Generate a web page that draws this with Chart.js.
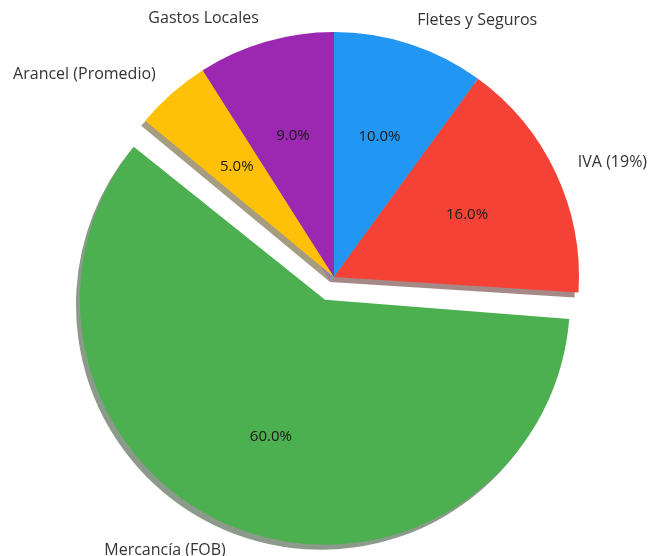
<!DOCTYPE html>
<html>
<head>
<meta charset="utf-8">
<script src="https://cdn.jsdelivr.net/npm/chart.js@4.4.1/dist/chart.umd.min.js"></script>
<style>
  html, body { margin: 0; padding: 0; background: #fff; }
  #wrap { width: 648px; height: 556px; }
</style>
</head>
<body>
<div id="wrap"><canvas id="pie" width="648" height="556"></canvas></div>
<script>
// slices in clockwise order starting at 12 o'clock
var labels = ["Fletes y Seguros", "IVA (19%)", "Mercancía (FOB)", "Arancel (Promedio)", "Gastos Locales"];
var values = [10, 16, 60, 5, 9];
var colors = ["#2196F3", "#F44336", "#4CAF50", "#FFC107", "#9C27B0"];
var explode = [0, 0, 98, 0, 0]; // arc offset, the slice moves out by offset/4

var LABEL_FONT = "16px 'Open Sans', sans-serif";
var PCT_FONT = "15px 'Open Sans', sans-serif";

function shadeOf(hex){
    var r = parseInt(hex.substr(1, 2), 16), g = parseInt(hex.substr(3, 2), 16), b = parseInt(hex.substr(5, 2), 16);
    return "rgba(" + Math.round(r * 0.3) + "," + Math.round(g * 0.3) + "," + Math.round(b * 0.3) + ",0.5)";
}

// Chart.js pushes an offset arc out and also grows its radius
function offsetParts(arc){
    var off = (arc.options.offset || 0) / 4;
    var circ = arc.endAngle - arc.startAngle;
    var fix = 1 - Math.sin(Math.min(Math.PI, circ));
    return { move: off, grow: off * fix };
}

function arcCenter(arc){
    var mid = (arc.startAngle + arc.endAngle) / 2;
    var p = offsetParts(arc);
    return { x: arc.x + Math.cos(mid) * p.move, y: arc.y + Math.sin(mid) * p.move, mid: mid, r: arc.outerRadius + p.grow };
}

// keep the exploded slice the same size as the others
var explodeFix = {
    id: "explodeFix",
    afterDatasetUpdate: function(chart, args){
        args.meta.data.forEach(function(arc){
            arc.outerRadius -= offsetParts(arc).grow;
        });
    }
};

var shadowPlugin = {
    id: "pieShadow",
    beforeDatasetsDraw: function(chart){
        var ctx = chart.ctx;
        var arcs = chart.getDatasetMeta(0).data;
        ctx.save();
        arcs.forEach(function(arc, i){
            var c = arcCenter(arc);
            ctx.beginPath();
            ctx.moveTo(c.x - 4, c.y + 5);
            ctx.arc(c.x - 4, c.y + 5, c.r, arc.startAngle, arc.endAngle);
            ctx.closePath();
            ctx.fillStyle = shadeOf(colors[i]);
            ctx.fill();
        });
        ctx.restore();
    }
};

var labelPlugin = {
    id: "pieLabels",
    afterDatasetsDraw: function(chart){
        var ctx = chart.ctx;
        var arcs = chart.getDatasetMeta(0).data;
        var total = values.reduce(function(a, b){ return a + b; }, 0);
        ctx.save();
        ctx.textBaseline = "middle";
        arcs.forEach(function(arc, i){
            var c = arcCenter(arc);
            var cx = Math.cos(c.mid), cy = Math.sin(c.mid);
            // category label outside
            ctx.font = LABEL_FONT;
            ctx.fillStyle = "#333333";
            ctx.textAlign = cx >= 0 ? "left" : "right";
            ctx.fillText(labels[i], c.x + cx * c.r * 1.1, c.y + cy * c.r * 1.1);
            // percentage inside
            ctx.font = PCT_FONT;
            ctx.fillStyle = "#1a1a1a";
            ctx.textAlign = "center";
            ctx.fillText((values[i] / total * 100).toFixed(1) + "%", c.x + cx * c.r * 0.6, c.y + cy * c.r * 0.6);
        });
        ctx.restore();
    }
};

var chart = new Chart(document.getElementById("pie"), {
    type: "pie",
    data: {
        labels: labels,
        datasets: [{
            data: values,
            backgroundColor: colors,
            borderWidth: 0,
            offset: explode
        }]
    },
    options: {
        responsive: false,
        animation: false,
        events: [],
        radius: 245,
        layout: { padding: { left: 20, right: 0, top: 0, bottom: 2 } },
        plugins: {
            legend: { display: false },
            tooltip: { enabled: false }
        }
    },
    plugins: [explodeFix, shadowPlugin, labelPlugin]
});
</script>
</body>
</html>
